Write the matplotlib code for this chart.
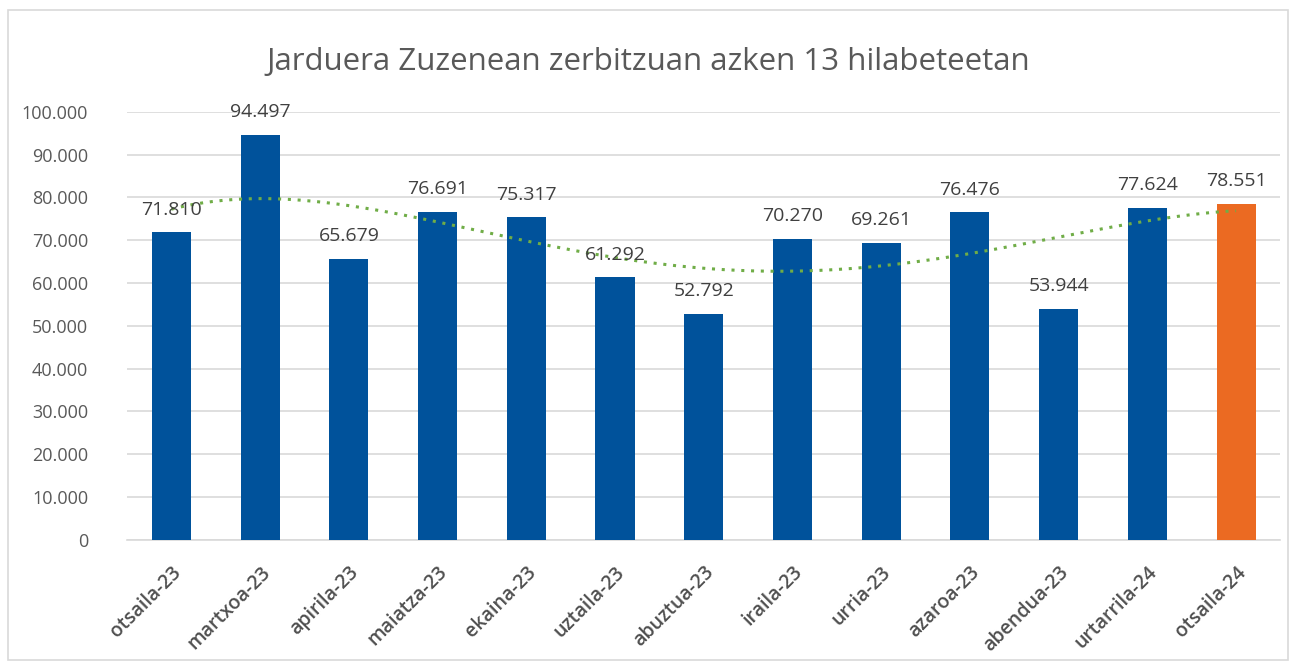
import numpy as np
import matplotlib.pyplot as plt
from matplotlib.patches import Rectangle

months = ["otsaila-23", "martxoa-23", "apirila-23", "maiatza-23", "ekaina-23",
          "uztaila-23", "abuztua-23", "iraila-23", "urria-23", "azaroa-23",
          "abendua-23", "urtarrila-24", "otsaila-24"]
values = [71810, 94497, 65679, 76691, 75317, 61292, 52792, 70270, 69261,
          76476, 53944, 77624, 78551]
y_ticks = [0, 10000, 20000, 30000, 40000, 50000, 60000, 70000, 80000, 90000, 100000]

title = "Jarduera Zuzenean zerbitzuan azken 13 hilabeteetan"


def fmt(v):
    # thousands separator as a dot
    return "{:,.0f}".format(v).replace(",", ".")


plt.rcParams['font.family'] = ['Open Sans', 'DejaVu Sans']

fig = plt.figure(figsize=(12.96, 6.69), dpi=100)
ax = fig.add_axes([0.098, 0.193, 0.89, 0.64])

x = np.arange(len(months))
colors = ["#00529B"] * (len(months) - 1) + ["#EB6A22"]
ax.bar(x, values, width=0.44, color=colors, zorder=3)

# polynomial trend line (order 4) through the bar values
coef = np.polyfit(x + 1, values, 4)
xs = np.linspace(x[0], x[-1], 200)
ax.plot(xs, np.polyval(coef, xs + 1), color="#70AD47", linestyle=(0, (1, 2.2)),
        linewidth=2.2, zorder=4)

for xi, v in zip(x, values):
    ax.annotate(fmt(v), (xi, v), xytext=(0, 10), textcoords="offset points",
                ha="center", va="bottom", fontsize=14, color="#404040",
                zorder=5, annotation_clip=False)

ax.set_ylim(0, 100000)
ax.set_xlim(-0.5, len(months) - 0.5)
ax.set_yticks(y_ticks)
ax.set_yticklabels([fmt(t) for t in y_ticks], fontsize=13, color="#595959")
ax.set_xticks(x)
ax.set_xticklabels(months, rotation=45, ha="right", rotation_mode="anchor",
                   fontsize=14, color="#505050", fontweight="semibold")
ax.tick_params(axis="both", length=0)
ax.tick_params(axis="y", pad=28)
ax.tick_params(axis="x", pad=16)

ax.grid(axis="y", color="#D9D9D9", linewidth=1.2, zorder=0)
for s in ["top", "right", "left"]:
    ax.spines[s].set_visible(False)
ax.spines["bottom"].set_color("#D9D9D9")
ax.spines["bottom"].set_linewidth(1.2)

fig.text(0.5, 0.907, title, ha="center", va="center", fontsize=22.5, color="#595959")

# chart area border
fig.patches.append(Rectangle((0.006, 0.013), 0.988, 0.972, transform=fig.transFigure,
                             fill=False, edgecolor="#D9D9D9", linewidth=1.2))

fig.savefig("out.png", dpi=100)
